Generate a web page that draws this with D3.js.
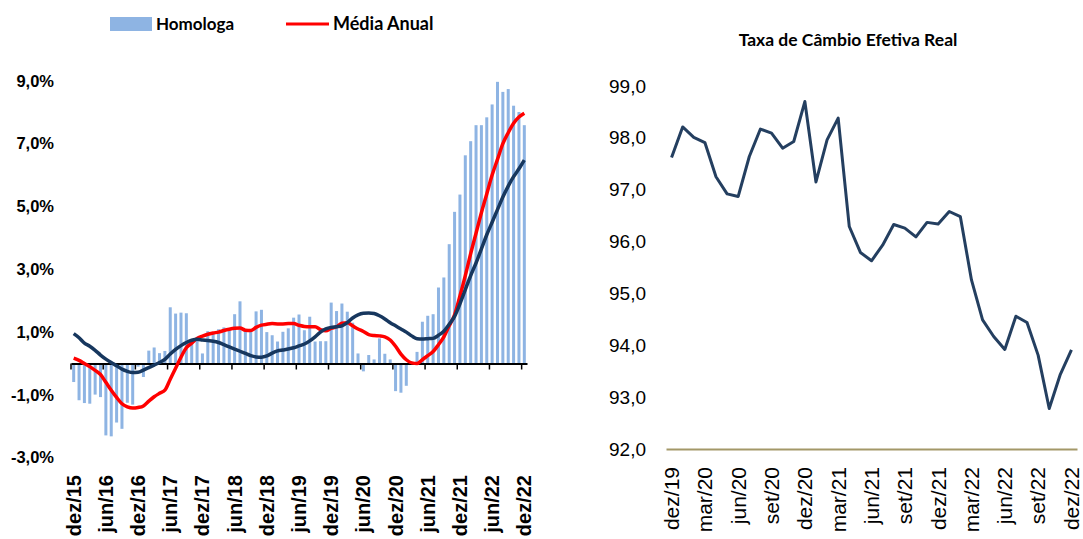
<!DOCTYPE html>
<html>
<head>
<meta charset="utf-8">
<script src="https://cdn.jsdelivr.net/npm/d3@7"></script>
<style>
  body { margin: 0; background: #fff; }
  svg { font-family: Lato, "Open Sans", sans-serif; }
</style>
</head>
<body>
<div id="chart"></div>
<script>
// Data
var monthNames = ["jan", "fev", "mar", "abr", "mai", "jun", "jul", "ago", "set", "out", "nov", "dez"];

// left chart: dez/15 .. dez/22, monthly
var leftMonths = [];
for (var y = 2015; y <= 2022; y++) {
    monthNames.forEach(function(m, k) {
        if (y === 2015 && k < 11) return;
        leftMonths.push(m + "/" + String(y).slice(2));
    });
}
var leftTicks = ["dez/15", "jun/16", "dez/16", "jun/17", "dez/17", "jun/18", "dez/18", "jun/19",
    "dez/19", "jun/20", "dez/20", "jun/21", "dez/21", "jun/22", "dez/22"];

var homologa = [-0.59, -1.17, -1.26, -1.28, -0.99, -1.07, -2.29, -2.32, -1.88, -2.08, -1.25, -1.31,
    -0.10, -0.43, 0.41, 0.51, 0.33, 0.40, 1.79, 1.59, 1.62, 1.60, 0.72, 0.82,
    0.32, 1.03, 0.95, 1.09, 1.15, 1.12, 1.57, 1.98, 1.04, 1.02, 1.66, 1.71,
    1.00, 0.90, 0.70, 1.01, 1.12, 1.46, 1.56, 1.06, 1.49, 0.70, 0.71, 0.71,
    1.94, 1.67, 1.91, 1.65, 1.30, 0.32, -0.25, 0.27, 0.13, 0.80, 0.31, 0.13,
    -0.88, -0.93, -0.71, 0.05, 0.37, 1.33, 1.52, 1.57, 2.42, 2.74, 3.80, 4.83,
    5.38, 6.63, 7.08, 7.59, 7.59, 7.84, 8.25, 8.97, 8.65, 8.74, 8.21, 8.01, 7.59];

var mediaAnual = [0.17, 0.10, 0.00, -0.10, -0.22, -0.35, -0.60, -0.85, -1.08, -1.28, -1.38, -1.42,
    -1.40, -1.35, -1.20, -1.06, -0.95, -0.85, -0.50, -0.15, 0.20, 0.50, 0.65, 0.80,
    0.87, 0.93, 0.97, 1.00, 1.05, 1.09, 1.12, 1.13, 1.06, 1.05, 1.15, 1.22,
    1.25, 1.27, 1.26, 1.26, 1.27, 1.27, 1.22, 1.18, 1.17, 1.17, 1.08, 1.04,
    1.12, 1.17, 1.28, 1.30, 1.20, 1.10, 1.02, 0.92, 0.89, 0.88, 0.85, 0.75,
    0.55, 0.30, 0.12, 0.02, 0.00, 0.12, 0.25, 0.38, 0.60, 0.85, 1.20, 1.55,
    2.15, 2.80, 3.50, 4.15, 4.80, 5.40, 6.00, 6.50, 7.00, 7.35, 7.65, 7.85, 7.97];

var outraSerie = [0.95, 0.82, 0.65, 0.55, 0.42, 0.27, 0.14, 0.03, -0.07, -0.18, -0.25, -0.29,
    -0.28, -0.21, -0.13, -0.05, 0.03, 0.13, 0.30, 0.45, 0.57, 0.67, 0.74, 0.77,
    0.75, 0.73, 0.71, 0.67, 0.60, 0.53, 0.46, 0.39, 0.32, 0.25, 0.21, 0.20,
    0.24, 0.33, 0.40, 0.43, 0.46, 0.50, 0.56, 0.62, 0.72, 0.85, 1.00, 1.10,
    1.15, 1.17, 1.20, 1.30, 1.45, 1.55, 1.60, 1.61, 1.59, 1.52, 1.42, 1.30,
    1.20, 1.10, 1.00, 0.88, 0.79, 0.78, 0.79, 0.80, 0.90, 1.03, 1.25, 1.50,
    1.90, 2.35, 2.80, 3.20, 3.65, 4.10, 4.50, 4.90, 5.30, 5.65, 5.95, 6.20, 6.48];

var leftYTicks = [-3, -1, 1, 3, 5, 7, 9];

// right chart: dez/19 .. dez/22, monthly
var rightMonths = leftMonths.slice(leftMonths.indexOf("dez/19"));
var rightTicks = ["dez/19", "mar/20", "jun/20", "set/20", "dez/20", "mar/21", "jun/21",
    "set/21", "dez/21", "mar/22", "jun/22", "set/22", "dez/22"];
var cambio = [97.62, 98.21, 98.01, 97.91, 97.25, 96.92, 96.87, 97.64, 98.17, 98.09, 97.80, 97.93,
    98.70, 97.15, 97.96, 98.38, 96.29, 95.79, 95.63, 95.93, 96.33, 96.26, 96.09, 96.37,
    96.34, 96.58, 96.48, 95.26, 94.49, 94.17, 93.92, 94.56, 94.44, 93.81, 92.78, 93.44, 93.91];
var rightYTicks = [92, 93, 94, 95, 96, 97, 98, 99];

var fmt = function(v) { return v.toFixed(1).replace(".", ","); };

var svg = d3.select("#chart")
    .append("svg")
    .attr("width", 1083)
    .attr("height", 539);

// ---------- left chart ----------
var xL = d3.scaleBand().domain(leftMonths).range([71, 527]);
var yL = d3.scaleLinear().domain([-3, 9]).range([457.7, 80.9]);
var bw = xL.bandwidth();

svg.append("g")
    .selectAll("rect")
    .data(homologa)
    .enter()
    .append("rect")
    .attr("x", function(d, i) { return xL(leftMonths[i]) + bw * 0.22; })
    .attr("width", bw * 0.56)
    .attr("y", function(d) { return yL(Math.max(0, d)); })
    .attr("height", function(d) { return Math.abs(yL(d) - yL(0)); })
    .attr("fill", "#8eb4e3");

// axis line and ticks at zero
var xAxisL = svg.append("g")
    .attr("transform", "translate(0," + yL(0) + ")")
    .call(d3.axisBottom(xL).tickValues(leftTicks).tickSize(6).tickSizeOuter(0).tickFormat(""));
xAxisL.select(".domain").attr("stroke", "#000").attr("stroke-width", 2);
xAxisL.selectAll(".tick line")
    .attr("x1", -bw / 2).attr("x2", -bw / 2)
    .attr("stroke", "#000").attr("stroke-width", 1.5);

// category labels at bottom
var xLabL = svg.append("g")
    .attr("transform", "translate(0,475)")
    .call(d3.axisBottom(xL).tickValues(leftTicks).tickSize(0));
xLabL.select(".domain").remove();
xLabL.selectAll("text")
    .attr("transform", "rotate(-90)")
    .attr("x", 0).attr("y", 0).attr("dy", "0.35em")
    .attr("text-anchor", "end")
    .attr("fill", "#000")
    .style("font-size", "20px")
    .style("font-weight", "bold");

var yAxisL = svg.append("g")
    .attr("transform", "translate(54,0)")
    .call(d3.axisLeft(yL).tickValues(leftYTicks).tickSize(0).tickPadding(0)
        .tickFormat(function(d) { return fmt(d) + "%"; }));
yAxisL.select(".domain").remove();
yAxisL.selectAll("text")
    .attr("fill", "#000")
    .style("font-size", "16.5px")
    .style("font-weight", "bold");

var lineL = function(vals) {
    return d3.line()
        .x(function(d, i) { return xL(leftMonths[i]) + bw / 2; })
        .y(function(d) { return yL(d); })
        .curve(d3.curveMonotoneX)(vals);
};

svg.append("path")
    .attr("d", lineL(mediaAnual))
    .attr("fill", "none")
    .attr("stroke", "#ff0000")
    .attr("stroke-width", 3.5);

svg.append("path")
    .attr("d", lineL(outraSerie))
    .attr("fill", "none")
    .attr("stroke", "#17375e")
    .attr("stroke-width", 3.5);

// legend
svg.append("rect")
    .attr("x", 110).attr("y", 17).attr("width", 42).attr("height", 14)
    .attr("fill", "#8eb4e3");
svg.append("text")
    .attr("x", 156).attr("y", 24).attr("dy", "0.35em")
    .style("font-size", "17px").style("font-weight", "bold")
    .text("Homologa");
svg.append("line")
    .attr("x1", 286).attr("x2", 329).attr("y1", 24).attr("y2", 24)
    .attr("stroke", "#ff0000").attr("stroke-width", 3);
svg.append("text")
    .attr("x", 333).attr("y", 24).attr("dy", "0.35em")
    .style("font-size", "18px").style("font-weight", "bold")
    .text("Média Anual");

// ---------- right chart ----------
var xR = d3.scaleBand().domain(rightMonths).range([666, 1077]);
var yR = d3.scaleLinear().domain([92, 99]).range([449, 86]);

svg.append("text")
    .attr("x", 848).attr("y", 40).attr("dy", "0.35em")
    .attr("text-anchor", "middle")
    .style("font-size", "17.5px").style("font-weight", "bold")
    .text("Taxa de Câmbio Efetiva Real");

var xAxisR = svg.append("g")
    .attr("transform", "translate(0," + yR(92) + ")")
    .call(d3.axisBottom(xR).tickValues(rightTicks).tickSize(0).tickSizeOuter(0));
xAxisR.select(".domain").attr("stroke", "#a39868").attr("stroke-width", 2);
xAxisR.selectAll("text")
    .attr("transform", "translate(0,18) rotate(-90)")
    .attr("x", 0).attr("y", 0).attr("dy", "0.35em")
    .attr("text-anchor", "end")
    .attr("fill", "#000")
    .style("font-size", "21px");

var yAxisR = svg.append("g")
    .attr("transform", "translate(646,0)")
    .call(d3.axisLeft(yR).tickValues(rightYTicks).tickSize(0).tickPadding(0).tickFormat(fmt));
yAxisR.select(".domain").remove();
yAxisR.selectAll("text")
    .attr("fill", "#000")
    .style("font-size", "19px");

svg.append("path")
    .attr("d", d3.line()
        .x(function(d, i) { return xR(rightMonths[i]) + xR.bandwidth() / 2; })
        .y(function(d) { return yR(d); })(cambio))
    .attr("fill", "none")
    .attr("stroke", "#243f60")
    .attr("stroke-width", 3)
    .attr("stroke-linejoin", "round");
</script>
</body>
</html>
